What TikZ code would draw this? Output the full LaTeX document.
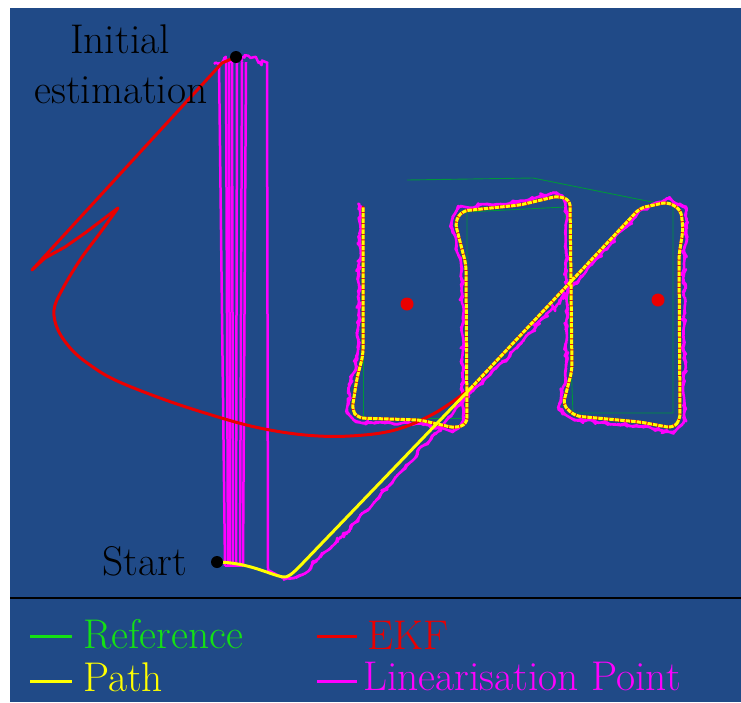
\documentclass[tikz,border=0pt]{standalone}
\usetikzlibrary{decorations.pathmorphing}
\definecolor{bgblue}{RGB}{32,74,135}
\definecolor{refgreen}{RGB}{0,150,60}
\definecolor{leggreen}{RGB}{20,225,20}
\definecolor{ekfred}{RGB}{235,0,0}
\definecolor{pathyellow}{RGB}{255,255,0}
\definecolor{linmag}{RGB}{255,0,255}
\begin{document}
\begin{tikzpicture}[x=1pt,y=-1pt,
  lbl/.style={inner sep=0pt, font=\fontsize{41.5}{50}\selectfont},
  reftrace/.style={draw=refgreen, line width=0.9pt},
  ekftrace/.style={draw=ekfred, line width=3pt, line join=round, line cap=round},
  pathtrace/.style={draw=pathyellow, line width=3pt, line join=round, line cap=round},
  lintrace/.style={draw=linmag, line width=2.5pt, line join=round},
  jag/.style={decorate, decoration={random steps, segment length=4pt, amplitude=2pt}},
  legline/.style={line width=3pt},
  dotb/.style={fill=black},
  dotr/.style={fill=ekfred},
  pathB/.style={insert path={(470,389) -- (640,208) -- (668,202) -- (681,210) -- (683,230) -- (679,255) -- (680,420) -- (673,428) -- (640,422) -- (575,416) -- (563,405) -- (572,370) -- (570,200) -- (558,196) -- (520,205) -- (462,211) -- (455,222) -- (466,265) -- (467,424) -- (455,428) -- (420,420) -- (358,418) -- (352,410) -- (357,378) -- (363,355) -- (363,207)}}
]
\useasboundingbox (0,0) rectangle (741,702);
\fill[white] (0,0) rectangle (741,702);
\fill[bgblue] (10,8) rectangle (741,702);
\draw[black, line width=2pt] (10,598) -- (741,598);

% reference
\draw[reftrace] (407,180) -- (533,178) -- (657,203);
\draw[reftrace] (363,210) -- (363,418) -- (463,418);
\draw[reftrace] (467,418) -- (467,212) -- (565,207) -- (573,413) -- (673,413) -- (673,205);

% linearisation point
\pgfmathsetseed{7}
\draw[lintrace] (219,62) -- (225,566);
\draw[lintrace] (226,62) -- (228,566);
\draw[lintrace] (229,62) -- (230,566);
\draw[lintrace] (232,62) -- (233,566);
\draw[lintrace] (237,62) -- (236,565);
\draw[lintrace] (242,62) -- (240,565);
\draw[lintrace] (246,62) -- (243,565);
\draw[lintrace] (267,62) -- (268,570) -- (283,578);
\draw[lintrace] (225,566) -- (243,566);
\draw[lintrace, decorate, decoration={random steps, segment length=2.5pt, amplitude=4.5pt}] (214,64) -- (240,58) -- (268,63);
\draw[lintrace, jag, rounded corners=4pt] (283,580) -- (300,577) -- (330,548) -- (370,508) -- (378,497) -- (470,394) -- (520,345) -- (640,211) -- (668,199) -- (686,208) -- (687,232) -- (684,258) -- (684,422) -- (674,432) -- (640,426) -- (574,420) -- (559,408) -- (566,372) -- (567,330) -- (566,202) -- (556,192) -- (520,202) -- (460,207) -- (450,222) -- (462,265) -- (463,420) -- (456,432) -- (420,424) -- (356,422) -- (347,412) -- (352,378) -- (358,355) -- (360,205);

% EKF
\draw[ekftrace] (236,57) -- (222,63) -- (32,270) -- (45,258) -- (65,247) -- (85,233) -- (118,208);
\draw[ekftrace] plot[smooth, tension=0.6] coordinates {(118,208) (100,233) (80,260) (62,290) (54,310) (58,330) (72,350) (90,365) (115,380) (160,398) (205,413) (255,427) (305,435) (350,436) (395,430) (435,413) (470,389)};
\draw[ekftrace, rounded corners=6pt, pathB];

% path
\draw[pathtrace] (218,562) .. controls (250,563) and (268,574) .. (283,577) .. controls (288,578) and (293,573) .. (300,566) -- (470,389);
\draw[pathtrace, line cap=butt, dash pattern=on 4.5pt off 1pt, rounded corners=6pt, pathB];

% dots
\fill[dotr] (407,304) circle (6.5);
\fill[dotr] (658,300) circle (6.5);
\fill[dotb] (236,57) circle (6);
\fill[dotb] (217,562) circle (6);

% labels
\node[lbl, anchor=base] (init1) at (120,53) {Initial};
\node[lbl, anchor=base] (init2) at (121,103) {estimation};
\node[lbl, anchor=base east] (start) at (187,575) {Start};

% legend
\draw[legline, leggreen] (30,636) -- (72,636);
\node[lbl, anchor=base west, text=leggreen] (lref) at (83,648) {Reference};
\draw[legline, ekfred] (317,636) -- (357,636);
\node[lbl, anchor=base west, text=ekfred] (lekf) at (367,649) {EKF};
\draw[legline, pathyellow] (30,681) -- (72,681);
\node[lbl, anchor=base west, text=pathyellow] (lpath) at (83,691) {Path};
\draw[legline, linmag] (317,681) -- (357,681);
\node[lbl, anchor=base west, text=linmag] (llin) at (363,690) {Linearisation Point};
\end{tikzpicture}
\end{document}
